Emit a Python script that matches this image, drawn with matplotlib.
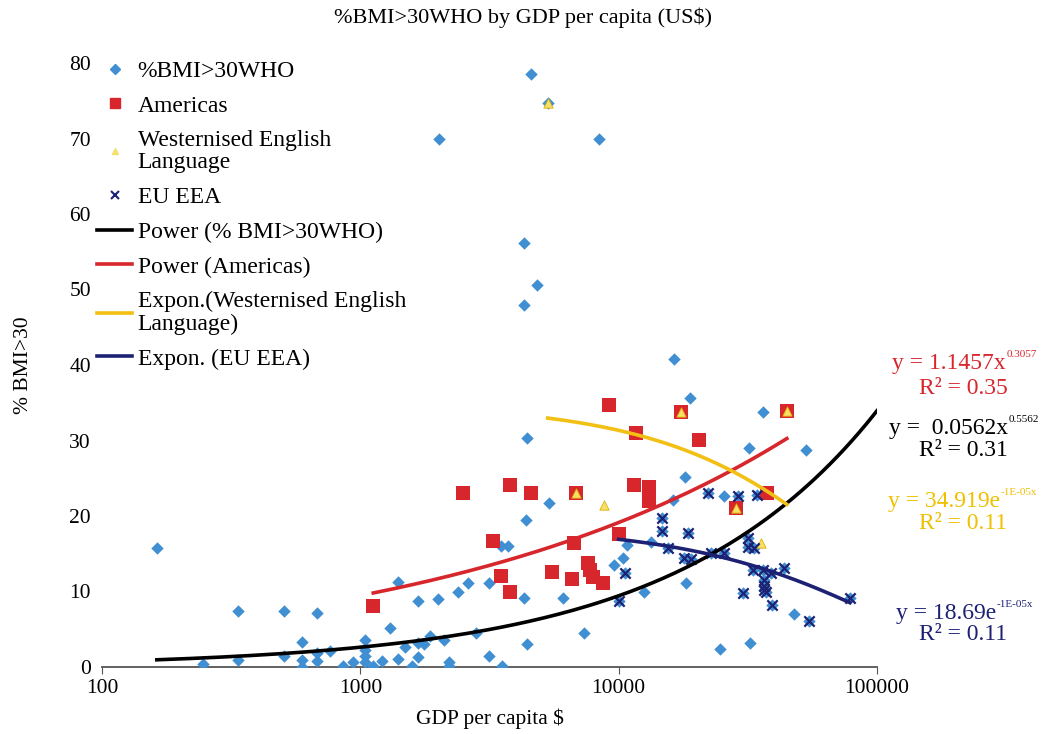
import numpy as np
import matplotlib
matplotlib.use("Agg")
import matplotlib.pyplot as plt
from matplotlib.lines import Line2D

plt.rcParams['font.family'] = ['Liberation Serif', 'DejaVu Serif']

# ---------------------------------------------------------
# Data
# ---------------------------------------------------------
who_gdp = [163, 246, 336, 336, 507, 507, 596, 596, 596, 681, 681, 681, 765, 859,
           939, 1045, 1045, 1045, 1045, 1122, 1216, 1306, 1403, 1403, 1493, 1591,
           1679, 1679, 1679, 1771, 1868, 2005, 2117, 2213, 2213, 2398, 2600, 2793,
           3135, 3135, 3489, 3717, 3524, 4285, 4285, 4285, 4436, 4436, 4363, 4560,
           4811, 2023, 8356, 5309, 5353, 6069, 7315, 9567, 10370, 10740, 12500,
           13300, 16330, 16180, 18020, 18190, 18840, 24600, 25510, 31910, 32200,
           36160, 47650, 53060]
who_bmi = [15.8, 0.4, 7.4, 0.9, 7.4, 1.5, 3.3, 0.9, 0.0, 7.2, 1.9, 0.8, 2.1, 0.1,
           0.7, 3.6, 2.3, 1.5, 0.7, 0.1, 0.8, 5.2, 11.3, 1.1, 2.6, 0.1,
           8.7, 3.2, 1.3, 3.0, 4.1, 9.0, 3.6, 0.7, 0.1, 9.9, 11.1, 4.5,
           11.1, 1.5, 16.0, 16.0, 0.1, 9.1, 56.2, 47.9, 3.0, 30.3, 19.5, 78.5,
           50.6, 70.0, 70.0, 74.7, 21.7, 9.1, 4.5, 13.5, 14.4, 16.2, 9.9,
           16.6, 40.8, 22.1, 25.2, 11.1, 35.6, 2.4, 22.6, 29.0, 3.2,
           33.8, 7.0, 28.7]

am_gdp = [1122, 2506, 3252, 3489, 3784, 3784, 4560, 5500, 6576, 6700, 6813, 7580,
          7725, 7930, 8670, 9150, 10000, 11430, 11640, 13060, 13060, 17380, 20400,
          28400, 37500, 44770]
am_bmi = [8.1, 23.0, 16.7, 12.1, 24.1, 9.9, 23.0, 12.6, 11.7, 16.4, 23.0, 13.8,
          12.8, 11.9, 11.1, 34.7, 17.6, 24.1, 31.0, 23.8, 22.0, 33.8, 30.1,
          21.1, 23.0, 33.9]

we_gdp = [5309, 6813, 8750, 17380, 28400, 35480, 44770]
we_bmi = [74.7, 23.0, 21.5, 33.8, 21.1, 16.4, 33.9]

eu_gdp = [10000, 10540, 14690, 14690, 15500, 17860, 19010, 18500, 22130, 22750,
          25510, 28920, 30250, 31620, 31620, 33350, 33050, 34270, 36160, 36480,
          36480, 36480, 37150, 38820, 39170, 43650, 54450, 78520]
eu_bmi = [8.7, 12.4, 19.7, 18.0, 15.8, 14.4, 14.3, 17.7, 23.0, 15.1,
          15.1, 22.6, 9.8, 17.1, 15.9, 15.8, 12.8, 22.8, 12.8, 11.5,
          10.7, 10.2, 9.9, 12.5, 8.2, 13.1, 6.1, 9.1]

C_BLUE = "#3f8fd2"
C_RED = "#d7262c"
C_YEL = "#f2c014"
C_NAVY = "#1d2173"

# ---------------------------------------------------------
# Plot
# ---------------------------------------------------------
fig = plt.figure(figsize=(10.47, 7.34), dpi=100)
ax = fig.add_axes([102 / 1047, 1 - 667 / 734, 775 / 1047, 604 / 734])

ax.scatter(who_gdp + eu_gdp, who_bmi + eu_bmi, marker="D", s=40, color=C_BLUE,
           linewidths=0, zorder=3)
ax.scatter(am_gdp, am_bmi, marker="s", s=90, color=C_RED, linewidths=0, zorder=4)
ax.scatter(we_gdp, we_bmi, marker="^", s=45, color="#f5e06a", edgecolors="#e0b000",
           linewidths=0.6, zorder=5)
ax.scatter(eu_gdp, eu_bmi, marker="x", s=55, color=C_NAVY, linewidths=1.6, zorder=6)

# trendlines from the equations shown on the chart
xw = np.logspace(np.log10(min(who_gdp)), 5, 200)
ax.plot(xw, 0.0562 * xw ** 0.5562, color="black", lw=2.6, zorder=7)
xa = np.logspace(np.log10(min(am_gdp)), np.log10(max(am_gdp)), 200)
ax.plot(xa, 1.1457 * xa ** 0.3057, color=C_RED, lw=2.6, zorder=7)
xe = np.linspace(min(we_gdp), max(we_gdp), 200)
ax.plot(xe, 34.919 * np.exp(-1.08e-5 * xe), color=C_YEL, lw=2.6, zorder=7)
xu = np.linspace(min(eu_gdp), max(eu_gdp), 200)
ax.plot(xu, 18.69 * np.exp(-1e-5 * xu), color=C_NAVY, lw=2.6, zorder=7)

ax.set_xscale("log")
ax.set_xlim(100, 100000)
ax.set_ylim(0, 80)
ax.set_yticks(range(0, 81, 10))
ax.set_xticks([100, 1000, 10000, 100000])
ax.set_xticklabels(["100", "1000", "10000", "100000"])
ax.minorticks_off()
ax.tick_params(axis="y", length=0, labelsize=15.5, pad=8)
ax.tick_params(axis="x", length=5, direction="out", labelsize=15.5, color="#555555")
for s in ["top", "right", "left"]:
    ax.spines[s].set_visible(False)
ax.spines["bottom"].set_color("#555555")
ax.spines["bottom"].set_linewidth(1.3)

ax.set_xlabel("GDP per capita $", fontsize=15.5, labelpad=8)
ax.set_ylabel("% BMI>30", fontsize=15.5, labelpad=26)
fig.text(0.5, 1 - 18 / 734, "%BMI>30WHO by GDP per capita (US$)", ha="center",
         va="center", fontsize=16)

handles = [
    Line2D([], [], ls="", marker="D", ms=5, color=C_BLUE),
    Line2D([], [], ls="", marker="s", ms=7, color=C_RED),
    Line2D([], [], ls="", marker="^", ms=5, color="#f5e06a"),
    Line2D([], [], ls="", marker="x", ms=6, mew=1.5, color=C_NAVY),
    Line2D([], [], color="black", lw=2.6),
    Line2D([], [], color=C_RED, lw=2.6),
    Line2D([], [], color=C_YEL, lw=2.6),
    Line2D([], [], color=C_NAVY, lw=2.6),
]
labels = ["%BMI>30WHO", "Americas", "Westernised English\nLanguage", "EU EEA",
          "Power (% BMI>30WHO)", "Power (Americas)",
          "Expon.(Westernised English\nLanguage)", "Expon. (EU EEA)"]
leg = ax.legend(handles, labels, loc="upper left", bbox_to_anchor=(-0.018, 1.02),
                frameon=False, fontsize=17, handlelength=1.45, handletextpad=0.25,
                labelspacing=0.56, borderaxespad=0)
for t in leg.get_texts():
    t.set_linespacing(1.1)

# equation annotations: (main, superscript, R2, colour, split x, line y, R2 y)
eqs = [
    ("y = 1.1457x", "0.3057", "R\u00b2 = 0.35", C_RED, 1006, 362, 387),
    ("y =  0.0562x", "0.5562", "R\u00b2 = 0.31", "black", 1008, 427, 449),
    ("y = 34.919e", "-1E-05x", "R\u00b2 = 0.11", "#eec000", 1000, 500, 522),
    ("y = 18.69e", "-1E-05x", "R\u00b2 = 0.11", C_NAVY, 996, 612, 633),
]
for main, sup, r2, col, xs, y1, y2 in eqs:
    fig.text(xs / 1047, 1 - (y1 + 7) / 734, main, color=col, fontsize=17,
             ha="right", va="baseline")
    fig.text(xs / 1047 + 0.001, 1 - (y1 - 5) / 734, sup, color=col, fontsize=8,
             ha="left", va="baseline")
    fig.text(963 / 1047, 1 - (y2 + 7) / 734, r2, color=col, fontsize=17,
             ha="center", va="baseline")

fig.savefig("out.png", dpi=100)
